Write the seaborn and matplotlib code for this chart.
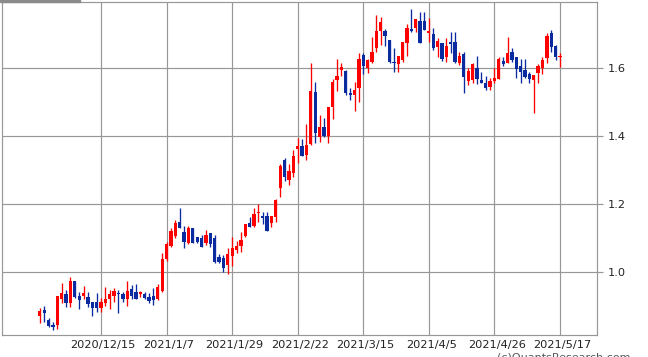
import matplotlib
matplotlib.use("Agg")
import matplotlib.pyplot as plt
import seaborn as sns
import numpy as np
import pandas as pd
from matplotlib.transforms import ScaledTranslation
from matplotlib.patches import Rectangle

# ---- data ----
opens = [0.872, 0.888, 0.859, 0.844, 0.844, 0.920, 0.935, 0.910, 0.974, 0.929,
         0.929, 0.927, 0.913, 0.913, 0.895, 0.910, 0.920, 0.930, 0.939, 0.934,
         0.920, 0.949, 0.940, 0.934, 0.934, 0.927, 0.929, 0.920, 0.944, 1.037,
         1.076, 1.106, 1.148, 1.119, 1.084, 1.130, 1.104, 1.101, 1.084, 1.116,
         1.099, 1.045, 1.042, 1.021, 1.047, 1.065, 1.076, 1.106, 1.143, 1.136,
         1.173, 1.165, 1.165, 1.145, 1.163, 1.248, 1.329, 1.271, 1.292, 1.363,
         1.371, 1.344, 1.376, 1.530, 1.396, 1.426, 1.400, 1.486, 1.565, 1.594,
         1.592, 1.526, 1.521, 1.540, 1.638, 1.599, 1.619, 1.660, 1.709, 1.709,
         1.682, 1.618, 1.612, 1.624, 1.673, 1.714, 1.717, 1.739, 1.739, 1.704,
         1.699, 1.663, 1.673, 1.633, 1.676, 1.676, 1.614, 1.641, 1.562, 1.565,
         1.599, 1.565, 1.557, 1.545, 1.562, 1.568, 1.621, 1.616, 1.648, 1.631,
         1.606, 1.594, 1.582, 1.565, 1.586, 1.599, 1.628, 1.702, 1.665, 1.633]
highs = [0.894, 0.900, 0.864, 0.854, 0.929, 0.969, 0.947, 0.986, 0.974, 0.942,
         0.959, 0.942, 0.913, 0.939, 0.924, 0.955, 0.947, 0.952, 0.947, 0.942,
         0.974, 0.962, 0.965, 0.944, 0.941, 0.937, 0.952, 0.964, 1.055, 1.089,
         1.129, 1.153, 1.189, 1.135, 1.135, 1.130, 1.104, 1.109, 1.124, 1.116,
         1.109, 1.052, 1.050, 1.070, 1.104, 1.090, 1.119, 1.141, 1.163, 1.189,
         1.200, 1.176, 1.176, 1.165, 1.216, 1.317, 1.334, 1.317, 1.359, 1.393,
         1.390, 1.435, 1.614, 1.560, 1.462, 1.452, 1.486, 1.569, 1.626, 1.616,
         1.594, 1.540, 1.560, 1.643, 1.643, 1.626, 1.692, 1.756, 1.750, 1.714,
         1.682, 1.658, 1.635, 1.676, 1.729, 1.773, 1.743, 1.766, 1.766, 1.746,
         1.719, 1.687, 1.673, 1.687, 1.707, 1.707, 1.648, 1.648, 1.599, 1.614,
         1.635, 1.589, 1.575, 1.570, 1.599, 1.633, 1.631, 1.692, 1.658, 1.631,
         1.626, 1.626, 1.589, 1.579, 1.612, 1.633, 1.702, 1.712, 1.668, 1.643]
lows = [0.851, 0.854, 0.837, 0.829, 0.832, 0.908, 0.898, 0.898, 0.924, 0.890,
        0.920, 0.898, 0.871, 0.883, 0.883, 0.900, 0.890, 0.913, 0.880, 0.913,
        0.900, 0.920, 0.920, 0.927, 0.921, 0.910, 0.903, 0.918, 0.940, 1.032,
        1.074, 1.099, 1.129, 1.070, 1.081, 1.084, 1.084, 1.074, 1.079, 1.074,
        1.027, 1.027, 1.001, 0.994, 1.018, 1.055, 1.060, 1.103, 1.131, 1.131,
        1.148, 1.140, 1.121, 1.131, 1.148, 1.221, 1.268, 1.256, 1.280, 1.322,
        1.341, 1.329, 1.374, 1.380, 1.383, 1.396, 1.380, 1.449, 1.533, 1.576,
        1.521, 1.506, 1.473, 1.501, 1.582, 1.584, 1.614, 1.648, 1.668, 1.666,
        1.616, 1.589, 1.589, 1.619, 1.635, 1.707, 1.707, 1.673, 1.712, 1.677,
        1.653, 1.633, 1.622, 1.619, 1.643, 1.616, 1.609, 1.527, 1.550, 1.555,
        1.553, 1.555, 1.535, 1.535, 1.557, 1.568, 1.606, 1.614, 1.619, 1.570,
        1.557, 1.570, 1.557, 1.469, 1.557, 1.582, 1.614, 1.648, 1.624, 1.602]
closes = [0.885, 0.880, 0.841, 0.839, 0.929, 0.937, 0.910, 0.974, 0.927, 0.918,
          0.939, 0.905, 0.895, 0.895, 0.913, 0.920, 0.935, 0.944, 0.935, 0.920,
          0.944, 0.929, 0.920, 0.941, 0.924, 0.915, 0.917, 0.955, 1.037, 1.082,
          1.121, 1.145, 1.129, 1.089, 1.130, 1.086, 1.089, 1.074, 1.109, 1.081,
          1.030, 1.030, 1.011, 1.052, 1.071, 1.076, 1.094, 1.141, 1.133, 1.171,
          1.176, 1.160, 1.121, 1.165, 1.212, 1.312, 1.280, 1.297, 1.341, 1.371,
          1.341, 1.374, 1.533, 1.408, 1.426, 1.400, 1.486, 1.559, 1.576, 1.604,
          1.527, 1.521, 1.535, 1.626, 1.606, 1.624, 1.648, 1.709, 1.735, 1.694,
          1.619, 1.614, 1.635, 1.676, 1.717, 1.709, 1.743, 1.673, 1.712, 1.709,
          1.658, 1.679, 1.626, 1.665, 1.670, 1.619, 1.635, 1.574, 1.592, 1.612,
          1.567, 1.557, 1.542, 1.562, 1.571, 1.626, 1.611, 1.645, 1.624, 1.596,
          1.589, 1.573, 1.568, 1.579, 1.606, 1.624, 1.694, 1.661, 1.633, 1.636]
tick_labels = ["2020/12/15", "2021/1/7", "2021/1/29", "2021/2/22",
               "2021/3/15", "2021/4/5", "2021/4/26", "2021/5/17"]
y_ticks = [1.0, 1.2, 1.4, 1.6]
first_tick = 14
tick_step = 15

RED = "#FF0000"
BLUE = "#0A2AA0"
GRID = "#979797"

sns.set_theme(style="white")
plt.rcParams["font.family"] = ["DejaVu Sans"]

df = pd.DataFrame({"o": opens, "h": highs, "l": lows, "c": closes})
df["x"] = np.arange(len(df))
df["up"] = df["c"] >= df["o"]
colors = np.where(df["up"], RED, BLUE)

fig = plt.figure(figsize=(6.48, 3.57), dpi=100)
ax = fig.add_axes([2 / 648, 22 / 357, 595 / 648, 333 / 357])

ax.vlines(df["x"], df["l"], df["h"], colors=colors, linewidth=0.95, zorder=3)
bottom = np.minimum(df["o"], df["c"])
height = np.maximum(np.abs(df["c"] - df["o"]), 0.003)
ax.bar(df["x"], height, bottom=bottom, width=0.75, color=colors,
       linewidth=0, zorder=3)

ax.set_xlim(-8.65, 127.47)
ax.set_ylim(0.8147, 1.7941)

ticks_x = [first_tick + tick_step * k for k in range(len(tick_labels))]
ax.set_xticks(ticks_x)
ax.set_xticklabels(tick_labels)
ax.set_yticks(y_ticks)
ax.set_yticklabels([f"{v:.1f}" for v in y_ticks])
ax.yaxis.tick_right()

ax.grid(True, color=GRID, linewidth=0.85, zorder=0)
for s in ax.spines.values():
    s.set_visible(True)
    s.set_color(GRID)
    s.set_linewidth(0.85)

ax.tick_params(axis="x", length=0, pad=3.5, labelsize=8.2, labelcolor="#222222")
ax.tick_params(axis="y", length=4, width=0.85, color=GRID, pad=3.5,
               labelsize=8.2, labelcolor="#222222", right=True, left=False)
offset = ScaledTranslation(2.3 / 100, 0, fig.dpi_scale_trans)
for lab in ax.get_xticklabels():
    lab.set_transform(lab.get_transform() + offset)

fig.patches.append(Rectangle((0, 1 - 2 / 357), 80 / 648, 2 / 357,
                             transform=fig.transFigure, color="#8A8A8A",
                             zorder=5))
fig.text(497 / 648, (357 - 352.5) / 357, "(c)QuantsResearch.com", va="top",
         ha="left", fontsize=8, color="#555555")

fig.savefig("out.png", dpi=100)
